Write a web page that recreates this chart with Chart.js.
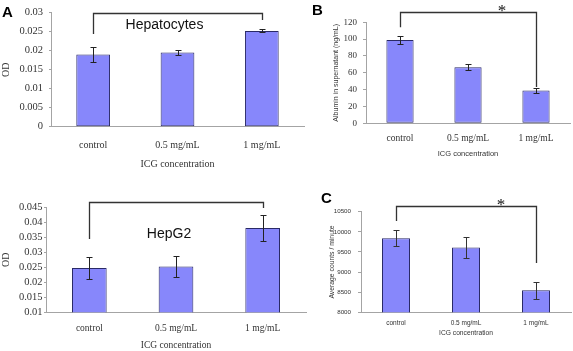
<!DOCTYPE html>
<html>
<head>
<meta charset="utf-8">
<script src="https://cdn.jsdelivr.net/npm/chart.js@4.4.1/dist/chart.umd.min.js"></script>
<style>
  body { margin: 0; background: #fff; }
  #fig { position: relative; width: 573px; height: 351px; overflow: hidden; background: #fff; }
  #fig canvas { position: absolute; }
</style>
</head>
<body>
<div id="fig">
  <canvas id="hepatocytes" width="305" height="170" style="left:0px;top:0px"></canvas>
  <canvas id="hepg2" width="307" height="156" style="left:0px;top:195px"></canvas>
  <canvas id="albumin" width="268" height="170" style="left:305px;top:0px"></canvas>
  <canvas id="counts" width="268" height="161" style="left:305px;top:190px"></canvas>
</div>
<script>
var categories = ['control', '0.5 mg/mL', '1 mg/mL'];

var hepatocytesOD = [0.0190, 0.0195, 0.0252];
var hepatocytesErr = [0.0020, 0.0006, 0.0004];

var hepg2OD = [0.0248, 0.0253, 0.0381];
var hepg2Err = [0.0037, 0.0036, 0.0043];

var albumin = [99, 66.5, 39];
var albuminErr = [5, 3.5, 2.5];

var counts = [9840, 9610, 8550];
var countsErr = [200, 250, 210];

var SERIF = "'Liberation Serif', 'Times New Roman', serif";
var SANS = "'Liberation Sans', Arial, sans-serif";
var AXIS = '#a4a4a4';
var TXT = '#333';

// error bars, significance bracket, inner label and panel letter
const extras = {
  id: 'extras',
  afterDatasetsDraw(chart, args, opts) {
    const ctx = chart.ctx, xs = chart.scales.x, ys = chart.scales.y;
    const values = chart.data.datasets[0].data;
    ctx.save();
    ctx.strokeStyle = opts.errColor;
    ctx.lineWidth = 1;
    chart.getDatasetMeta(0).data.forEach(function (bar, i) {
      const yt = Math.round(ys.getPixelForValue(values[i] + opts.err[i])) + 0.5;
      const yb = Math.round(ys.getPixelForValue(values[i] - opts.err[i])) + 0.5;
      const xc = Math.round(bar.x) + 0.5;
      ctx.beginPath();
      ctx.moveTo(xc, yt); ctx.lineTo(xc, yb);
      ctx.moveTo(xc - opts.cap, yt); ctx.lineTo(xc + opts.cap, yt);
      ctx.moveTo(xc - opts.cap, yb); ctx.lineTo(xc + opts.cap, yb);
      ctx.stroke();
    });

    const b = opts.bracket;
    const x1 = Math.round(xs.getPixelForValue(0)) + 0.5;
    const x2 = Math.round(xs.getPixelForValue(2)) + 0.5;
    const top = Math.round(ys.getPixelForValue(b.top)) + 0.5;
    ctx.strokeStyle = '#333';
    ctx.lineWidth = 1.3;
    ctx.beginPath();
    ctx.moveTo(x1, ys.getPixelForValue(b.left));
    ctx.lineTo(x1, top);
    ctx.lineTo(x2, top);
    ctx.lineTo(x2, ys.getPixelForValue(b.right));
    ctx.stroke();

    ctx.fillStyle = '#111';
    if (b.star) {
      ctx.font = '17px ' + SERIF;
      ctx.textAlign = 'center';
      ctx.textBaseline = 'alphabetic';
      ctx.fillText('*', xs.getPixelForValue(1.5), top + 3);
    }
    if (opts.label) {
      ctx.font = '14px ' + SANS;
      ctx.textAlign = 'center';
      ctx.textBaseline = 'alphabetic';
      ctx.fillText(opts.label.text, xs.getPixelForValue(1) + opts.label.dx, ys.getPixelForValue(opts.label.y));
    }
    if (opts.letter) {
      ctx.font = 'bold 15px ' + SANS;
      ctx.textAlign = 'left';
      ctx.textBaseline = 'alphabetic';
      ctx.fillStyle = '#000';
      ctx.fillText(opts.letter.text, opts.letter.x, opts.letter.y);
    }
    ctx.restore();
  }
};

function fmt(v) {
  return String(+Number(v).toFixed(4));
}

function makeChart(id, values, p) {
  const config = {
    type: 'bar',
    data: {
      labels: categories,
      datasets: [{
        data: values,
        backgroundColor: '#8787fb',
        borderColor: '#2a2a66',
        borderWidth: 1,
        borderSkipped: false,
        barPercentage: 0.4,
        categoryPercentage: 1
      }]
    },
    options: {
      responsive: false,
      animation: false,
      devicePixelRatio: 1,
      layout: { padding: { top: p.padTop, right: p.padRight, left: 0, bottom: 0 } },
      scales: {
        x: {
          ticks: { color: TXT, font: p.xTickFont, padding: p.xTickPad, autoSkip: false, maxRotation: 0 },
          grid: { drawOnChartArea: false, drawTicks: false, color: AXIS },
          border: { color: AXIS },
          title: { display: true, text: 'ICG concentration', color: TXT, font: p.xTitleFont,
                   padding: { top: 0, bottom: p.xTitlePad } },
          afterFit: function (s) { s.height = p.xH; }
        },
        y: {
          min: p.min, max: p.max,
          ticks: { stepSize: p.step, autoSkip: false, color: TXT, font: p.yTickFont,
                   padding: p.yTickPad, callback: fmt },
          grid: { drawOnChartArea: false, drawTicks: true, tickLength: p.tickLen, color: AXIS },
          border: { color: AXIS },
          title: { display: true, text: p.yTitle, color: TXT, font: p.yTitleFont,
                   padding: { top: p.yTitlePad, bottom: 0 } },
          afterFit: function (s) { s.width = p.yW; }
        }
      },
      plugins: {
        legend: { display: false },
        tooltip: { enabled: false },
        extras: p.extras
      }
    },
    plugins: [extras]
  };
  return new Chart(document.getElementById(id), config);
}

makeChart('hepatocytes', hepatocytesOD, {
  padTop: 12.7, padRight: 1, yW: 51, xH: 43.3,
  min: 0, max: 0.03, step: 0.005, tickLen: 2, yTickPad: 6, xTickPad: 13,
  yTitle: 'OD',
  yTickFont: { family: SERIF, size: 10.5 }, xTickFont: { family: SERIF, size: 10 },
  xTitleFont: { family: SERIF, size: 10 }, yTitleFont: { family: SERIF, size: 10 },
  xTitlePad: 0, yTitlePad: 0,
  extras: {
    err: hepatocytesErr, cap: 3, errColor: '#222',
    bracket: { top: 0.030, left: 0.0244, right: 0.0281 },
    label: { text: 'Hepatocytes', dx: -13, y: 0.0257 },
    letter: { text: 'A', x: 2, y: 17 }
  }
});

makeChart('hepg2', hepg2OD, {
  padTop: 12.3, padRight: 1, yW: 46, xH: 38.7,
  min: 0.01, max: 0.045, step: 0.005, tickLen: 2, yTickPad: 1.5, xTickPad: 10.5,
  yTitle: 'OD',
  yTickFont: { family: SERIF, size: 10.5 }, xTickFont: { family: SERIF, size: 9.5 },
  xTitleFont: { family: SERIF, size: 9.5 }, yTitleFont: { family: SERIF, size: 10 },
  xTitlePad: 0, yTitlePad: 0,
  extras: {
    err: hepg2Err, cap: 3, errColor: '#222',
    bracket: { top: 0.0467, left: 0.0344, right: 0.0448 },
    label: { text: 'HepG2', dx: -7, y: 0.03467 }
  }
});

makeChart('albumin', albumin, {
  padTop: 22.3, padRight: 3, yW: 61, xH: 46.7,
  min: 0, max: 120, step: 20, tickLen: 3, yTickPad: 6, xTickPad: 9.7,
  yTitle: 'Albumin in supernatant (ng/mL)',
  yTickFont: { family: SERIF, size: 9 }, xTickFont: { family: SERIF, size: 9.5 },
  xTitleFont: { family: SANS, size: 7.5 }, yTitleFont: { family: SANS, size: 7 },
  xTitlePad: 11.5, yTitlePad: 26.5,
  extras: {
    err: albuminErr, cap: 3, errColor: '#222',
    bracket: { top: 131.9, left: 114, right: 43.1, star: true },
    letter: { text: 'B', x: 7, y: 15 }
  }
});

makeChart('counts', counts, {
  padTop: 21.7, padRight: 2, yW: 56, xH: 38.7,
  min: 8000, max: 10500, step: 500, tickLen: 3, yTickPad: 7, xTickPad: 6.8,
  yTitle: 'Average counts / minute',
  yTickFont: { family: SANS, size: 6.2 }, xTickFont: { family: SANS, size: 6.5 },
  xTitleFont: { family: SANS, size: 6.7 }, yTitleFont: { family: SANS, size: 6.8 },
  xTitlePad: 14, yTitlePad: 22.9,
  extras: {
    err: countsErr, cap: 3, errColor: '#333',
    bracket: { top: 10642, left: 10269, right: 9225, star: true },
    letter: { text: 'C', x: 16, y: 13 }
  }
});
</script>
</body>
</html>
